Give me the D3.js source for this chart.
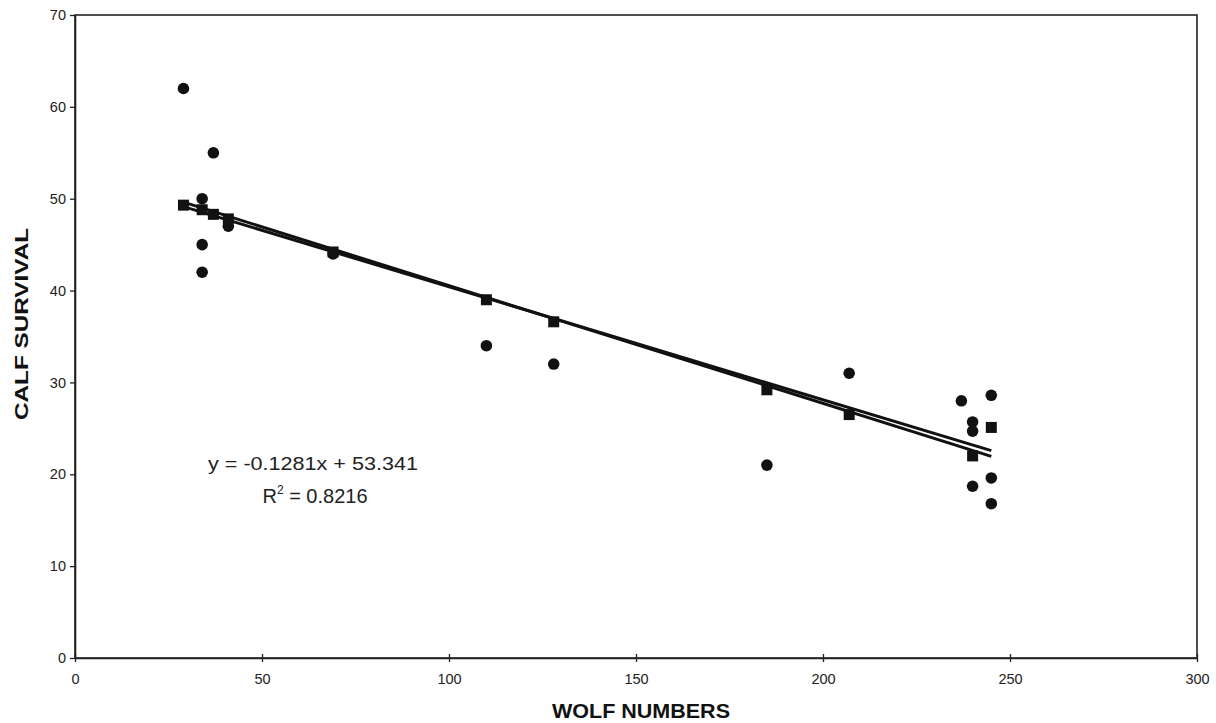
<!DOCTYPE html>
<html>
<head>
<meta charset="utf-8">
<script src="https://cdn.jsdelivr.net/npm/d3@7"></script>
<style>
  html, body { margin: 0; padding: 0; background: #fff; }
  svg { display: block; }
</style>
</head>
<body>
<svg id="chart" width="1216" height="723"></svg>
<script>
// Observed calf survival (circles)
const observedWolves = [29, 37, 34, 34, 34, 41, 69, 110, 128, 185, 207, 237, 245, 240, 240, 240, 245, 245];
const observedSurvival = [62, 55, 50, 45, 42, 47, 44, 34, 32, 21, 31, 28, 28.6, 25.7, 24.7, 18.7, 19.6, 16.8];
// Published trendline of the observed series (slope, intercept) as printed on the chart
const observedTrend = [-0.1281, 53.341];
// Predicted calf survival (squares)
const predictedWolves = [29, 34, 37, 41, 69, 110, 128, 185, 207, 240, 245];
const predictedSurvival = [49.3, 48.8, 48.3, 47.8, 44.2, 39.0, 36.6, 29.2, 26.5, 22.0, 25.1];
const xTicks = [0, 50, 100, 150, 200, 250, 300];
const yTicks = [0, 10, 20, 30, 40, 50, 60, 70];
const equationLines = ["y = -0.1281x + 53.341", "R", "2", " = 0.8216"];
const xTitle = "WOLF NUMBERS";
const yTitle = "CALF SURVIVAL";

(function () {
const svg = d3.select("#chart");
const mLeft = 75, mRight = 1197, mTop = 15, mBottom = 658;

const x = d3.scaleLinear().domain([0, 300]).range([mLeft, mRight]);
const y = d3.scaleLinear().domain([0, 70]).range([mBottom, mTop]);

const tickFont = "'Liberation Sans', Arial, sans-serif";

// frame
svg.append("rect")
  .attr("x", mLeft).attr("y", mTop)
  .attr("width", mRight - mLeft).attr("height", mBottom - mTop)
  .attr("fill", "none").attr("stroke", "#222").attr("stroke-width", 1.6);

// x axis
const xAxis = svg.append("g").attr("transform", `translate(0,${mBottom})`)
  .call(d3.axisBottom(x).tickValues(xTicks).tickSizeInner(4).tickSizeOuter(0).tickPadding(12));
xAxis.select(".domain").attr("stroke", "#222").attr("stroke-width", 1.6);
xAxis.selectAll(".tick line").attr("y1", -4).attr("y2", 4).attr("stroke", "#222").attr("stroke-width", 1.3);
xAxis.selectAll("text").attr("font-family", tickFont).attr("font-size", 14.5).attr("fill", "#222");

// y axis
const yAxis = svg.append("g").attr("transform", `translate(${mLeft},0)`)
  .call(d3.axisLeft(y).tickValues(yTicks).tickSizeInner(5).tickSizeOuter(0).tickPadding(4));
yAxis.select(".domain").attr("stroke", "#222").attr("stroke-width", 1.6);
yAxis.selectAll(".tick line").attr("stroke", "#222").attr("stroke-width", 1.3);
yAxis.selectAll("text").attr("font-family", tickFont).attr("font-size", 14.5).attr("fill", "#222");

// trendlines: observed uses printed equation, predicted uses least squares
function fit(xs, ys) {
  const mx = d3.mean(xs), my = d3.mean(ys);
  let sxy = 0, sxx = 0;
  xs.forEach((v, i) => { sxy += (v - mx) * (ys[i] - my); sxx += (v - mx) * (v - mx); });
  const b = sxy / sxx;
  return { slope: b, intercept: my - b * mx, x0: d3.min(xs), x1: d3.max(xs) };
}
const fits = [
  { slope: observedTrend[0], intercept: observedTrend[1], x0: d3.min(observedWolves), x1: d3.max(observedWolves) },
  fit(predictedWolves, predictedSurvival)
];
svg.append("g").selectAll("line").data(fits).join("line")
  .attr("x1", d => x(d.x0)).attr("y1", d => y(d.intercept + d.slope * d.x0))
  .attr("x2", d => x(d.x1)).attr("y2", d => y(d.intercept + d.slope * d.x1))
  .attr("stroke", "#111").attr("stroke-width", 3);

// squares
const sq = 11;
svg.append("g").selectAll("rect").data(predictedWolves.map((w, i) => [w, predictedSurvival[i]])).join("rect")
  .attr("x", d => x(d[0]) - sq / 2).attr("y", d => y(d[1]) - sq / 2)
  .attr("width", sq).attr("height", sq).attr("fill", "#111");

// circles
svg.append("g").selectAll("circle").data(observedWolves.map((w, i) => [w, observedSurvival[i]])).join("circle")
  .attr("cx", d => x(d[0])).attr("cy", d => y(d[1])).attr("r", 5.8).attr("fill", "#111");

// equation text
const eq = svg.append("g").attr("font-family", tickFont).attr("fill", "#222");
eq.append("text").attr("x", 313).attr("y", 470).attr("text-anchor", "middle")
  .attr("font-size", 19).attr("textLength", 210).attr("lengthAdjust", "spacingAndGlyphs")
  .text(equationLines[0]);
const r2 = eq.append("text").attr("x", 315).attr("y", 503).attr("text-anchor", "middle").attr("font-size", 20);
r2.append("tspan").text(equationLines[1]);
r2.append("tspan").attr("dy", -9).attr("font-size", 12).text(equationLines[2]);
r2.append("tspan").attr("dy", 9).text(equationLines[3]);

// axis titles
svg.append("text").attr("x", 641).attr("y", 718).attr("text-anchor", "middle")
  .attr("font-family", tickFont).attr("font-weight", "bold").attr("font-size", 20)
  .attr("textLength", 178).attr("lengthAdjust", "spacingAndGlyphs").attr("fill", "#111")
  .text(xTitle);
svg.append("text").attr("transform", "translate(28,324) rotate(-90)").attr("text-anchor", "middle")
  .attr("font-family", tickFont).attr("font-weight", "bold").attr("font-size", 19)
  .attr("textLength", 192).attr("lengthAdjust", "spacingAndGlyphs").attr("fill", "#111")
  .text(yTitle);
})();
</script>
</body>
</html>
